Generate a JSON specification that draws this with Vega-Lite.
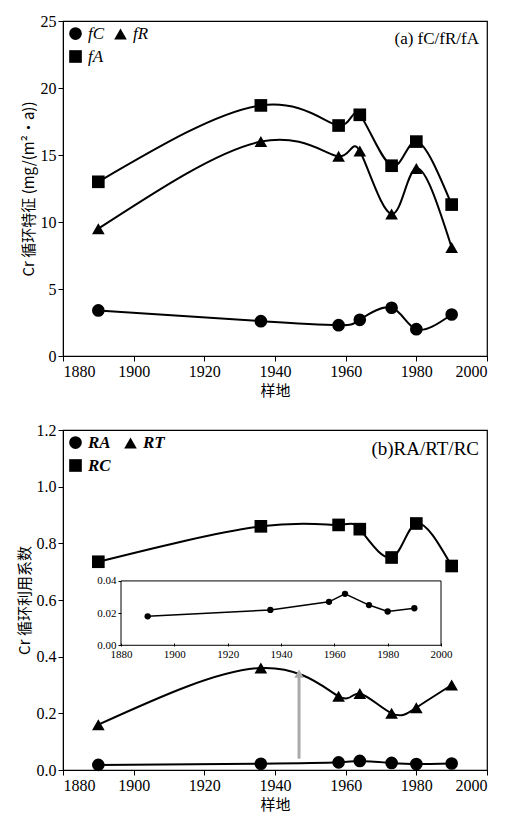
{
  "$schema": "https://vega.github.io/schema/vega-lite/v6.json",
  "background": "white",
  "padding": {"left": 16, "top": 12, "right": 12, "bottom": 3},
  "config": {
    "view": {"stroke": "black", "strokeWidth": 1.2},
    "font": "Liberation Serif",
    "axis": {
      "grid": false, "domainColor": "black", "tickColor": "black", "labelColor": "black",
      "titleColor": "black", "labelFont": "Liberation Serif", "labelFontSize": 16,
      "titleFont": "Noto Sans CJK SC", "titleFontSize": 15, "titleFontWeight": "normal", "tickSize": 5
    },
    "legend": {
      "labelFont": "Liberation Serif", "labelFontSize": 17, "labelColor": "black",
      "symbolFillColor": "black", "symbolStrokeColor": "black", "symbolSize": 160, "symbolOpacity": 1
    }
  },
  "resolve": {"scale": {"shape": "independent"}, "legend": {"shape": "independent"}},
  "vconcat": [
    {
      "width": 424,
      "height": 335,
      "data": {"values": [
        {"year": 1890, "val": 3.4, "s": "fC"}, {"year": 1936, "val": 2.6, "s": "fC"}, {"year": 1958, "val": 2.3, "s": "fC"},
        {"year": 1964, "val": 2.7, "s": "fC"}, {"year": 1973, "val": 3.6, "s": "fC"}, {"year": 1980, "val": 2.0, "s": "fC"},
        {"year": 1990, "val": 3.1, "s": "fC"},
        {"year": 1890, "val": 9.5, "s": "fR"}, {"year": 1936, "val": 16.0, "s": "fR"}, {"year": 1958, "val": 14.9, "s": "fR"},
        {"year": 1964, "val": 15.3, "s": "fR"}, {"year": 1973, "val": 10.6, "s": "fR"}, {"year": 1980, "val": 14.0, "s": "fR"},
        {"year": 1990, "val": 8.1, "s": "fR"},
        {"year": 1890, "val": 13.0, "s": "fA"}, {"year": 1936, "val": 18.7, "s": "fA"}, {"year": 1958, "val": 17.2, "s": "fA"},
        {"year": 1964, "val": 18.0, "s": "fA"}, {"year": 1973, "val": 14.2, "s": "fA"}, {"year": 1980, "val": 16.0, "s": "fA"},
        {"year": 1990, "val": 11.3, "s": "fA"}
      ]},
      "encoding": {
        "x": {"field": "year", "type": "quantitative", "scale": {"domain": [1880, 2000]}, "axis": {"values": [1880, 1900, 1920, 1940, 1960, 1980, 2000], "format": "d", "title": "样地", "titlePadding": 4}},
        "y": {"field": "val", "type": "quantitative", "scale": {"domain": [0, 25]}, "axis": {"values": [0, 5, 10, 15, 20, 25], "title": "Cr 循环特征 (mg/(m²·a))"}}
      },
      "layer": [
        {"mark": {"type": "line", "interpolate": "natural", "color": "black", "strokeWidth": 2}, "encoding": {"detail": {"field": "s"}}},
        {"mark": {"type": "point", "filled": true, "color": "black", "size": 160, "opacity": 1},
         "encoding": {"shape": {"field": "s", "type": "nominal",
           "scale": {"domain": ["fC", "fR", "fA"], "range": ["circle", "triangle-up", "square"]},
           "legend": {"title": null, "orient": "top-left", "columns": 2, "direction": "horizontal", "offset": 4, "rowPadding": 4, "columnPadding": 6, "labelFontStyle": "italic"}}}},
        {"data": {"values": [{"year": 2000, "val": 25, "t": "(a) fC/fR/fA"}]},
         "mark": {"type": "text", "align": "right", "baseline": "top", "dx": -8, "dy": 10, "fontSize": 17, "color": "black"},
         "encoding": {"text": {"field": "t"}}}
      ]
    },
    {
      "width": 424,
      "height": 340,
      "resolve": {"scale": {"x": "independent", "y": "independent"}, "axis": {"x": "independent", "y": "independent"}},
      "layer": [
        {
          "data": {"values": [
            {"year": 1890, "val": 0.018, "s": "RA"}, {"year": 1936, "val": 0.022, "s": "RA"}, {"year": 1958, "val": 0.027, "s": "RA"},
            {"year": 1964, "val": 0.032, "s": "RA"}, {"year": 1973, "val": 0.025, "s": "RA"}, {"year": 1980, "val": 0.021, "s": "RA"},
            {"year": 1990, "val": 0.023, "s": "RA"},
            {"year": 1890, "val": 0.16, "s": "RT"}, {"year": 1936, "val": 0.36, "s": "RT"}, {"year": 1958, "val": 0.26, "s": "RT"},
            {"year": 1964, "val": 0.27, "s": "RT"}, {"year": 1973, "val": 0.20, "s": "RT"}, {"year": 1980, "val": 0.22, "s": "RT"},
            {"year": 1990, "val": 0.30, "s": "RT"},
            {"year": 1890, "val": 0.735, "s": "RC"}, {"year": 1936, "val": 0.86, "s": "RC"}, {"year": 1958, "val": 0.865, "s": "RC"},
            {"year": 1964, "val": 0.85, "s": "RC"}, {"year": 1973, "val": 0.75, "s": "RC"}, {"year": 1980, "val": 0.87, "s": "RC"},
            {"year": 1990, "val": 0.72, "s": "RC"}
          ]},
          "encoding": {
            "x": {"field": "year", "type": "quantitative", "scale": {"domain": [1880, 2000]}, "axis": {"orient": "bottom", "values": [1880, 1900, 1920, 1940, 1960, 1980, 2000], "format": "d", "title": "样地", "titlePadding": 4}},
            "y": {"field": "val", "type": "quantitative", "scale": {"domain": [0, 1.2]}, "axis": {"orient": "left", "values": [0, 0.2, 0.4, 0.6, 0.8, 1.0, 1.2], "format": ".1f", "title": "Cr 循环利用系数"}}
          },
          "layer": [
            {"mark": {"type": "line", "interpolate": "natural", "color": "black", "strokeWidth": 2}, "encoding": {"detail": {"field": "s"}}},
            {"mark": {"type": "point", "filled": true, "color": "black", "size": 160, "opacity": 1},
             "encoding": {"shape": {"field": "s", "type": "nominal",
               "scale": {"domain": ["RA", "RT", "RC"], "range": ["circle", "triangle-up", "square"]},
               "legend": {"title": null, "orient": "top-left", "columns": 2, "direction": "horizontal", "offset": 4, "rowPadding": 4, "columnPadding": 10, "labelFontWeight": "bold", "labelFontStyle": "italic"}}}},
            {"data": {"values": [{"year": 1946.8, "val": 0.04, "v2": 0.33}]},
             "mark": {"type": "rule", "color": "#aaaaaa", "strokeWidth": 3},
             "encoding": {"y2": {"field": "v2"}}},
            {"data": {"values": [{"year": 1946.8, "val": 0.34}]},
             "mark": {"type": "point", "shape": "triangle-up", "filled": true, "color": "#aaaaaa", "size": 90, "opacity": 1},
             "encoding": {}},
            {"data": {"values": [{"year": 2000, "val": 1.2, "t": "(b)RA/RT/RC"}]},
             "mark": {"type": "text", "align": "right", "baseline": "top", "dx": -8, "dy": 10, "fontSize": 19, "color": "black"},
             "encoding": {"text": {"field": "t"}}}
          ]
        },
        {
          "data": {"values": [
            {"year": 1890, "val": 0.018}, {"year": 1936, "val": 0.022}, {"year": 1958, "val": 0.027},
            {"year": 1964, "val": 0.032}, {"year": 1973, "val": 0.025}, {"year": 1980, "val": 0.021},
            {"year": 1990, "val": 0.023}
          ]},
          "encoding": {
            "x": {"field": "year", "type": "quantitative", "scale": {"domain": [1858.25, 2017.25], "nice": false}, "axis": {"orient": "bottom", "values": [1880, 1900, 1920, 1940, 1960, 1980, 2000], "format": "d", "title": null, "domain": false, "offset": -127, "labelFontSize": 11, "tickSize": 3}},
            "y": {"field": "val", "type": "quantitative", "scale": {"domain": [-0.0775, 0.1338], "nice": false, "zero": false}, "axis": {"orient": "left", "values": [0, 0.02, 0.04], "format": ".2f", "title": null, "domain": false, "offset": -58, "labelFontSize": 11, "tickSize": 3}}
          },
          "layer": [
            {"data": {"values": [{"year": 1880, "x2": 2000, "val": 0, "v2": 0.04}]},
             "mark": {"type": "rect", "fill": null, "stroke": "black", "strokeWidth": 1},
             "encoding": {"x2": {"field": "x2"}, "y2": {"field": "v2"}}},
            {"mark": {"type": "line", "color": "black", "strokeWidth": 1.5}, "encoding": {}},
            {"mark": {"type": "point", "filled": true, "color": "black", "size": 40, "opacity": 1}, "encoding": {}}
          ]
        }
      ]
    }
  ],
  "spacing": 22
}
